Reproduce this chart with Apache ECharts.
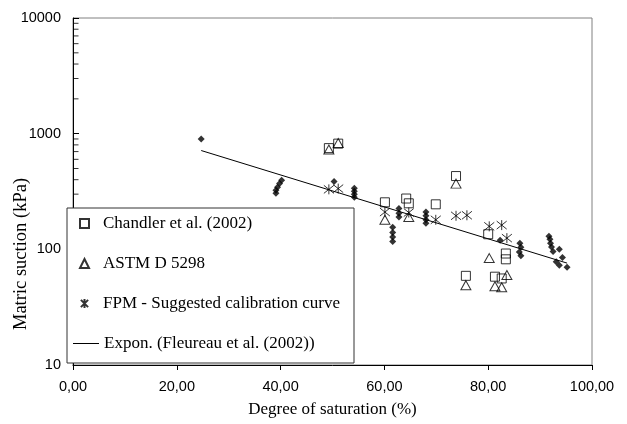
<!DOCTYPE html>
<html>
<head>
<meta charset="utf-8">
<script src="https://cdn.jsdelivr.net/npm/echarts@6/dist/echarts.min.js"></script>
<style>
  html, body { margin: 0; padding: 0; background: #fff; }
  #chart { width: 627px; height: 424px; }
</style>
</head>
<body>
<div id="chart"></div>
<script>
// degree of saturation (%), matric suction (kPa)
const chandler = [
  [49.3, 750], [51.1, 820], [60.1, 255], [64.2, 275], [64.7, 250], [69.9, 245],
  [73.8, 430], [75.7, 59], [80.0, 135], [81.3, 58], [82.6, 56], [83.4, 92], [83.4, 82]
];
const astm = [
  [49.3, 730], [51.1, 830], [60.1, 180], [64.7, 190], [73.8, 370], [75.7, 49],
  [80.2, 84], [81.3, 48], [82.6, 47], [83.6, 60]
];
const fpm = [
  [49.3, 330], [51.1, 335], [60.1, 210], [64.7, 208], [69.9, 180], [73.8, 195],
  [75.9, 197], [80.2, 158], [82.6, 162], [83.6, 125]
];
const fleureau = [
  [24.7, 900], [40.2, 395], [39.8, 370], [39.4, 345], [39.1, 325], [39.1, 305],
  [50.3, 385], [54.2, 337], [54.2, 318], [54.2, 300], [54.2, 282],
  [61.6, 155], [61.6, 140], [61.6, 128], [61.6, 117], [62.8, 225], [62.8, 205], [62.8, 190],
  [68.0, 210], [68.0, 195], [68.0, 180], [68.0, 168], [82.3, 120],
  [86.1, 113], [86.3, 104], [86.0, 95], [86.3, 88],
  [91.7, 130], [91.9, 122], [92.0, 113], [92.2, 105], [92.5, 96], [93.7, 100],
  [94.3, 85], [93.1, 78], [93.7, 73], [95.2, 70]
];
// exponential trend line end points (straight on a log axis)
const trend = [[24.7, 715], [95.2, 76]];

const xTicks = [0, 20, 40, 60, 80, 100];
const yMinorTicks = [
  20, 30, 40, 50, 60, 70, 80, 90,
  200, 300, 400, 500, 600, 700, 800, 900,
  2000, 3000, 4000, 5000, 6000, 7000, 8000, 9000
];

const legendNames = [
  'Chandler et al. (2002)',
  'ASTM D 5298',
  'FPM - Suggested calibration curve',
  'Expon. (Fleureau et al. (2002))'
];

const chart = echarts.init(document.getElementById('chart'));

const hollow = { color: 'rgba(0,0,0,0)', borderColor: '#000', borderWidth: 1 };
const legendText = { fontFamily: 'Liberation Serif', fontSize: 17, lineHeight: 17, color: '#000' };

const option = {
  animation: false,
  backgroundColor: '#fff',
  grid: {
    left: 73, right: 35, top: 18, bottom: 59,
    show: true, borderColor: '#808080', borderWidth: 1
  },
  xAxis: {
    type: 'value',
    min: xTicks[0],
    max: xTicks[xTicks.length - 1],
    interval: 20,
    name: 'Degree of saturation (%)',
    nameLocation: 'middle',
    nameGap: 36,
    nameTextStyle: { fontFamily: 'Liberation Serif', fontSize: 17, color: '#000' },
    axisLine: { lineStyle: { color: '#000', width: 1 } },
    axisTick: { inside: false, length: 5, lineStyle: { color: '#000' } },
    axisLabel: {
      margin: 14,
      fontFamily: 'Liberation Sans', fontSize: 14.5, color: '#000',
      formatter: v => v.toFixed(2).replace('.', ',')
    },
    splitLine: { show: false }
  },
  yAxis: {
    type: 'log',
    logBase: 10,
    min: 10,
    max: 10000,
    axisLine: { show: true, lineStyle: { color: '#000', width: 1 } },
    axisTick: { show: true, inside: true, length: 6, lineStyle: { color: '#000', width: 1 } },
    axisLabel: {
      margin: 12, fontFamily: 'Liberation Sans', fontSize: 14.5, color: '#000',
      formatter: v => String(Math.round(v))
    },
    splitLine: { show: false }
  },
  legend: [
    {
      data: legendNames.slice(0, 3),
      orient: 'vertical',
      left: 67,
      top: 208,
      padding: [7, 4, 0, 12],
      itemWidth: 9,
      itemHeight: 9,
      itemGap: 23,
      z: 5,
      textStyle: Object.assign({ padding: [0, 0, 0, 9] }, legendText)
    },
    {
      data: [{ name: legendNames[3], icon: 'rect' }],
      orient: 'vertical',
      left: 67,
      top: 328,
      padding: [7, 4, 0, 6],
      itemWidth: 26,
      itemHeight: 1,
      itemStyle: { color: '#000' },
      z: 5,
      textStyle: legendText
    }
  ],
  graphic: [
    {
      type: 'rect',
      z: 4,
      shape: { x: 67, y: 208, width: 287, height: 155 },
      style: { fill: '#fff', stroke: '#333', lineWidth: 1 }
    },
    {
      type: 'text',
      x: 21, y: 254,
      rotation: Math.PI / 2,
      style: {
        text: 'Matric suction (kPa)',
        align: 'center', verticalAlign: 'middle',
        fontFamily: 'Liberation Serif', fontSize: 18.5, fill: '#000'
      }
    }
  ],
  series: [
    {
      // minor log ticks on the y axis, pointing into the plot
      type: 'scatter',
      name: 'minor ticks',
      silent: true,
      clip: false,
      symbol: 'rect',
      symbolSize: [5, 1],
      symbolOffset: [3, 0],
      itemStyle: { color: '#000' },
      z: 3,
      data: yMinorTicks.map(v => [0, v])
    },
    {
      type: 'scatter',
      name: 'Fleureau et al. (2002)',
      symbol: 'diamond',
      symbolSize: 7,
      itemStyle: { color: '#000' },
      data: fleureau
    },
    {
      type: 'scatter',
      name: legendNames[0],
      symbol: 'rect',
      symbolSize: 9,
      itemStyle: hollow,
      data: chandler
    },
    {
      type: 'scatter',
      name: legendNames[1],
      symbol: 'triangle',
      symbolSize: [10, 9],
      itemStyle: hollow,
      data: astm
    },
    {
      type: 'scatter',
      name: legendNames[2],
      symbol: 'path://M5,0L5,10M1,1L9,9M1,9L9,1',
      symbolSize: 10,
      itemStyle: hollow,
      data: fpm
    },
    {
      type: 'line',
      name: legendNames[3],
      symbol: 'none',
      lineStyle: { color: '#000', width: 1 },
      itemStyle: { color: '#000' },
      data: trend
    }
  ]
};

chart.setOption(option);
</script>
</body>
</html>
